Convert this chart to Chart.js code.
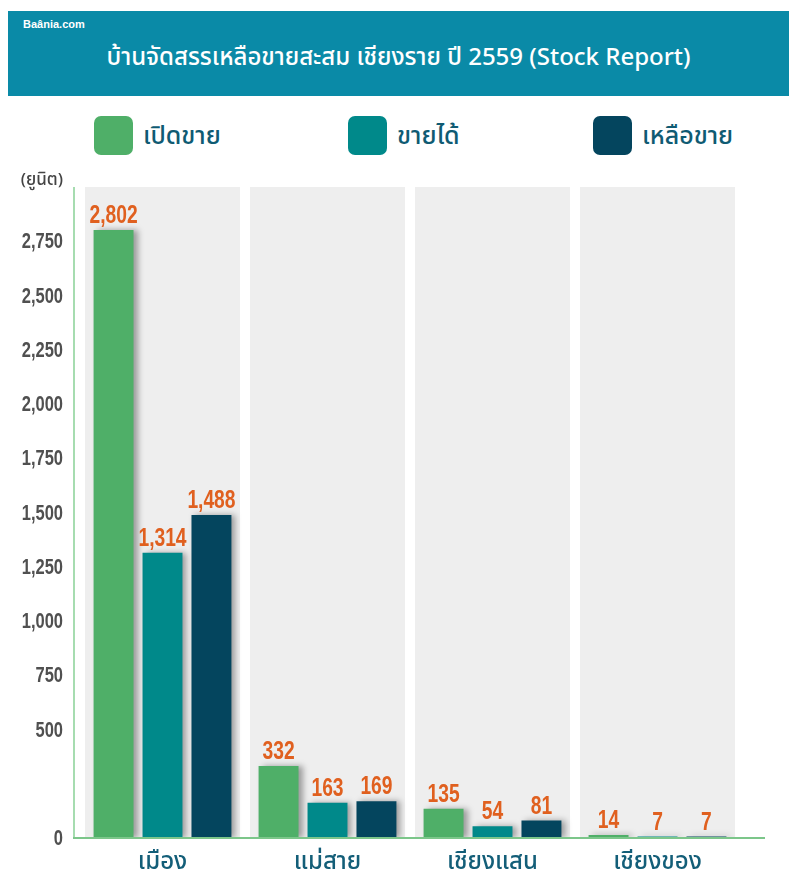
<!DOCTYPE html>
<html>
<head>
<meta charset="utf-8">
<script src="https://cdn.jsdelivr.net/npm/chart.js@4"></script>
<style>
  body { margin: 0; background: #fff; }
  #wrap { position: relative; width: 789px; height: 873px; overflow: hidden; font-family: 'Noto Sans Thai', 'Noto Sans', sans-serif; }
  #banner { position: absolute; left: 8px; top: 11px; width: 781px; height: 85px; background: #0a8aa7; color: #fff; }
  #brand { position: absolute; left: 15px; top: 7px; font: bold 11px 'Liberation Sans', Arial, sans-serif; }
  #title { position: absolute; left: 0; width: 100%; top: 31px; text-align: center; font-size: 24px; font-weight: 500; line-height: 32px; }
  .leg { position: absolute; top: 116px; height: 39px; display: flex; align-items: center; color: #0f5b73; font-size: 25px; font-weight: 500; }
  .leg span.box { width: 39px; height: 39px; border-radius: 7px; margin-right: 10px; display: inline-block; }
  canvas { position: absolute; left: 0; top: 0; }
</style>
</head>
<body>
<div id="wrap">
  <div id="banner">
    <div id="brand">Baânia.com</div>
    <div id="title">บ้านจัดสรรเหลือขายสะสม เชียงราย ปี 2559 (Stock Report)</div>
  </div>
  <div id="legend"></div>
  <canvas id="chart" width="789" height="873"></canvas>
</div>
<script>
// chart values
var districts = ["เมือง", "แม่สาย", "เชียงแสน", "เชียงของ"];
var seriesNames = ["เปิดขาย", "ขายได้", "เหลือขาย"];
var opened = [2802, 332, 135, 14];
var sold = [1314, 163, 54, 7];
var remaining = [1488, 169, 81, 7];
var tickValues = [0, 500, 750, 1000, 1250, 1500, 1750, 2000, 2250, 2500, 2750];
var seriesColors = ["#4faf68", "#00898a", "#04455e"];

// html legend
var legendX = [94, 348, 593];
var legend = document.getElementById("legend");
seriesNames.forEach(function (name, i) {
  var d = document.createElement("div");
  d.className = "leg";
  d.style.left = legendX[i] + "px";
  d.innerHTML = '<span class="box" style="background:' + seriesColors[i] + '"></span>' + name;
  legend.appendChild(d);
});

function fmt(v) {
  return v.toLocaleString("en-US");
}

// narrow bold numbers (squeezed horizontally)
function narrowText(ctx, text, x, y, sx) {
  ctx.save();
  ctx.translate(x, y);
  ctx.scale(sx, 1);
  ctx.fillText(text, 0, 0);
  ctx.restore();
}

// grey bands, shadows, value labels, axis lines
var decor = {
  id: "decor",
  beforeDatasetsDraw: function (chart) {
    var ctx = chart.ctx, area = chart.chartArea, x = chart.scales.x, y = chart.scales.y;
    var step = x.width / districts.length;
    var bw = step * 155 / 165;
    ctx.save();
    ctx.fillStyle = "#eeeeee";
    districts.forEach(function (d, i) {
      var cx = x.getPixelForValue(i);
      ctx.fillRect(cx - bw / 2, area.top, bw, area.bottom - area.top);
    });
    // y axis line
    ctx.strokeStyle = "#a6dcb0";
    ctx.lineWidth = 2;
    ctx.beginPath();
    ctx.moveTo(area.left - 6, area.top);
    ctx.lineTo(area.left - 6, area.bottom);
    ctx.stroke();
    // unit label
    ctx.fillStyle = "#444";
    ctx.font = "500 17px 'Noto Sans Thai', 'Noto Sans', sans-serif";
    ctx.textAlign = "right";
    ctx.textBaseline = "middle";
    ctx.fillText("(ยูนิต)", 63, 182);
    // y tick labels
    ctx.fillStyle = "#505050";
    ctx.font = "bold 22px 'Liberation Sans', Arial, sans-serif";
    ctx.textBaseline = "middle";
    y.ticks.forEach(function (t) {
      narrowText(ctx, fmt(t.value), 63, y.getPixelForValue(t.value) + 1, 0.75);
    });
    ctx.restore();

    ctx.save();
    ctx.shadowColor = "rgba(0,0,0,0.35)";
    ctx.shadowBlur = 6;
    ctx.shadowOffsetX = 4;
  },
  afterDatasetsDraw: function (chart) {
    var ctx = chart.ctx, area = chart.chartArea;
    ctx.restore();
    ctx.save();
    // baseline
    ctx.strokeStyle = "#7cc68a";
    ctx.lineWidth = 2;
    ctx.beginPath();
    ctx.moveTo(area.left - 7, area.bottom);
    ctx.lineTo(765, area.bottom);
    ctx.stroke();
    // value labels
    ctx.fillStyle = "#e0601f";
    ctx.font = "bold 26px 'Liberation Sans', Arial, sans-serif";
    ctx.textAlign = "center";
    ctx.textBaseline = "bottom";
    chart.data.datasets.forEach(function (ds, di) {
      chart.getDatasetMeta(di).data.forEach(function (bar, i) {
        narrowText(ctx, fmt(ds.data[i]), bar.x, bar.y - 1, 0.74);
      });
    });
    ctx.restore();
  }
};

new Chart(document.getElementById("chart"), {
  type: "bar",
  data: {
    labels: districts,
    datasets: [
      { label: seriesNames[0], data: opened, backgroundColor: seriesColors[0] },
      { label: seriesNames[1], data: sold, backgroundColor: seriesColors[1] },
      { label: seriesNames[2], data: remaining, backgroundColor: seriesColors[2] }
    ]
  },
  options: {
    responsive: false,
    animation: false,
    layout: { padding: { top: 187, right: 49, left: 0, bottom: 0 } },
    datasets: { bar: { categoryPercentage: 0.89, barPercentage: 0.816 } },
    plugins: { legend: { display: false }, tooltip: { enabled: false } },
    scales: {
      x: {
        grid: { display: false, drawTicks: false },
        border: { display: false },
        ticks: {
          color: "#135e78",
          padding: 12,
          font: { family: "'Noto Sans Thai', 'Noto Sans', sans-serif", size: 24, weight: "500" }
        },
        afterFit: function (s) { s.height = 35; }
      },
      y: {
        min: 0,
        max: 3000,
        grid: { display: false, drawTicks: false },
        border: { display: false },
        afterBuildTicks: function (s) {
          s.ticks = tickValues.map(function (v) { return { value: v }; });
        },
        afterFit: function (s) { s.width = 80; },
        ticks: { display: false }
      }
    }
  },
  plugins: [decor]
});
</script>
</body>
</html>
